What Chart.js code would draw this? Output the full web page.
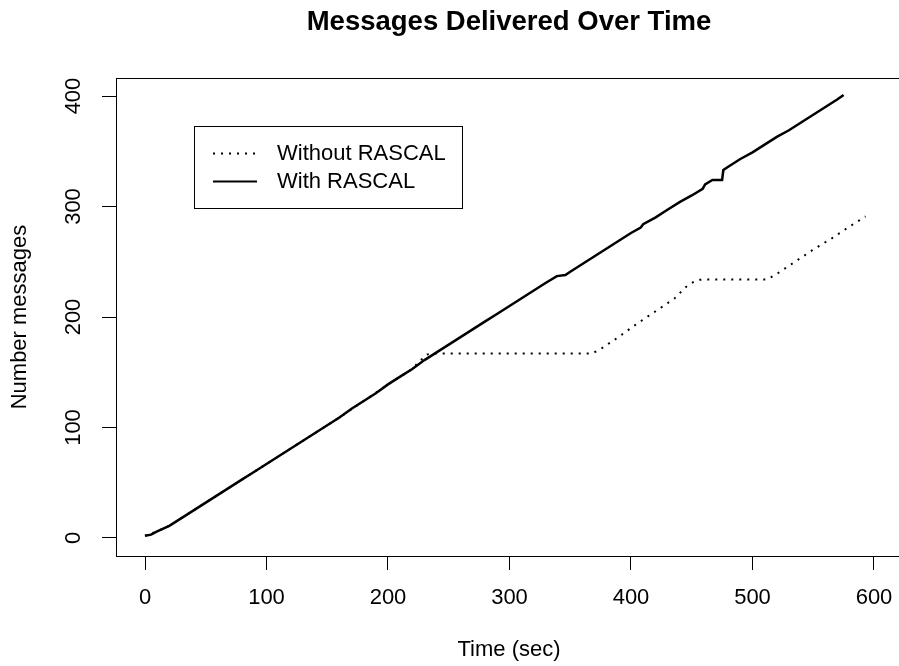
<!DOCTYPE html>
<html><head><meta charset="utf-8">
<script src="https://cdn.jsdelivr.net/npm/chart.js@4"></script>
<style>
html,body{margin:0;padding:0;overflow:hidden;background:#fff;width:899px;height:666px}
#c{position:absolute;left:0;top:0;width:902px;height:666px}
</style>
</head><body><canvas id="c" width="902" height="666"></canvas>
<script>
const chartTitle = 'Messages Delivered Over Time';
const xAxisTitle = 'Time (sec)';
const yAxisTitle = 'Number messages';
const seriesNames = ['Without RASCAL', 'With RASCAL'];
const xTicks = [0, 100, 200, 300, 400, 500, 600];
const yTicks = [0, 100, 200, 300, 400];

const withTime  = [0,5,10,20,30,40,50,60,70,80,90,100,110,120,130,140,150,160,170,180,190,200,210,220,230,240,250,260,270,280,290,300,310,320,330,339,346,350,360,370,380,390,400,408,410,420,430,440,450,459,461,467,475,476,480,490,500,510,520,530,540,550,560,570,575];
const withCount = [2,3,6,11,18,25,32,39,46,53,60,67,74,81,88,95,102,109,117,124,131,139,146,153,161,168,175,182,189,196,203,210,217,224,231,237,238,241,248,255,262,269,276,281,284,290,297,304,310,316,320,324,324,333,336,343,349,356,363,369,376,383,390,397,401];

const withoutTime  = [0,10,20,40,60,80,100,120,140,160,180,200,220,226,232,236,250,300,368,375,390,405,420,436,446,452,458,512,520,535,550,565,580,593];
const withoutCount = [2,6,11,25,39,53,67,81,95,109,124,139,153,160,166,167,167,167,167,171,182,194,205,217,228,232,234,234,239,250,261,271,282,291];

const FONT = '"Liberation Sans", Arial, Helvetica, sans-serif';

const toPts = (xs, ys) => xs.map((x, i) => ({x: x, y: ys[i]}));

const rPlot = {
  id: 'rPlot',
  afterDraw(chart) {
    const ctx = chart.ctx, a = chart.chartArea;
    ctx.save();
    ctx.strokeStyle = '#000';
    ctx.lineWidth = 1;
    ctx.setLineDash([]);
    ctx.strokeRect(Math.round(a.left) + 0.5, Math.round(a.top) + 0.5,
                   Math.round(a.right - a.left), Math.round(a.bottom - a.top));
    const ys = chart.scales.y;
    ctx.fillStyle = '#000';
    ctx.font = '22px ' + FONT;
    ctx.textAlign = 'center';
    ctx.textBaseline = 'middle';
    ys.ticks.forEach(t => {
      const py = ys.getPixelForValue(t.value);
      ctx.save();
      ctx.translate(73.5, py);
      ctx.rotate(-Math.PI / 2);
      ctx.fillText(String(t.value), 0, 0);
      ctx.restore();
    });
    ctx.strokeRect(194.5, 126.5, 268, 82);
    chart.data.datasets.forEach((ds, i) => {
      const y = 153.5 + 28 * i;
      ctx.save();
      ctx.strokeStyle = ds.borderColor;
      ctx.lineWidth = 2;
      ctx.setLineDash(ds.borderDash || []);
      ctx.beginPath();
      ctx.moveTo(213, y);
      ctx.lineTo(257, y);
      ctx.stroke();
      ctx.restore();
      ctx.textAlign = 'left';
      ctx.fillText(ds.label, 277, y);
    });
    ctx.restore();
  }
};

new Chart(document.getElementById('c'), {
  type: 'line',
  data: {
    datasets: [
      {label: seriesNames[0], data: toPts(withoutTime, withoutCount), borderColor: '#000',
       borderWidth: 2, borderDash: [2, 6], pointRadius: 0, tension: 0, fill: false},
      {label: seriesNames[1], data: toPts(withTime, withCount), borderColor: '#000',
       borderWidth: 2.5, pointRadius: 0, tension: 0, fill: false}
    ]
  },
  options: {
    responsive: false,
    maintainAspectRatio: false,
    devicePixelRatio: 1,
    animation: false,
    events: [],
    layout: {padding: 0},
    plugins: {
      legend: {display: false},
      tooltip: {enabled: false},
      title: {
        display: true, text: chartTitle, fullSize: false, color: '#000',
        font: {family: FONT, size: 27.5, weight: 'bold'},
        padding: {top: 6, bottom: 39}
      }
    },
    scales: {
      x: {
        type: 'linear', min: -23.87, max: 623.05,
        afterBuildTicks: s => { s.ticks = xTicks.map(v => ({value: v})); },
        afterFit: s => { s.height = 110; s.paddingLeft = 0; s.paddingRight = 0; },
        grid: {display: true, drawOnChartArea: false, drawTicks: true, tickLength: 14, color: '#000', lineWidth: 1},
        border: {display: false},
        ticks: {color: '#000', font: {family: FONT, size: 22}, padding: 14.8, maxRotation: 0, autoSkip: false,
                callback: v => String(v)},
        title: {display: true, text: xAxisTitle, color: '#000', font: {family: FONT, size: 22},
                padding: {top: 0, bottom: 2.8}}
      },
      y: {
        type: 'linear', min: -16.3, max: 416.3,
        afterBuildTicks: s => { s.ticks = yTicks.map(v => ({value: v})); },
        afterFit: s => { s.width = 116; s.paddingTop = 0; s.paddingBottom = 0; },
        grid: {display: true, drawOnChartArea: false, drawTicks: true, tickLength: 14, color: '#000', lineWidth: 1},
        border: {display: false},
        ticks: {display: false},
        title: {display: true, text: yAxisTitle, color: '#000', font: {family: FONT, size: 22},
                padding: {top: 7, bottom: 0}}
      }
    }
  },
  plugins: [rPlot]
});
</script>
</body></html>
